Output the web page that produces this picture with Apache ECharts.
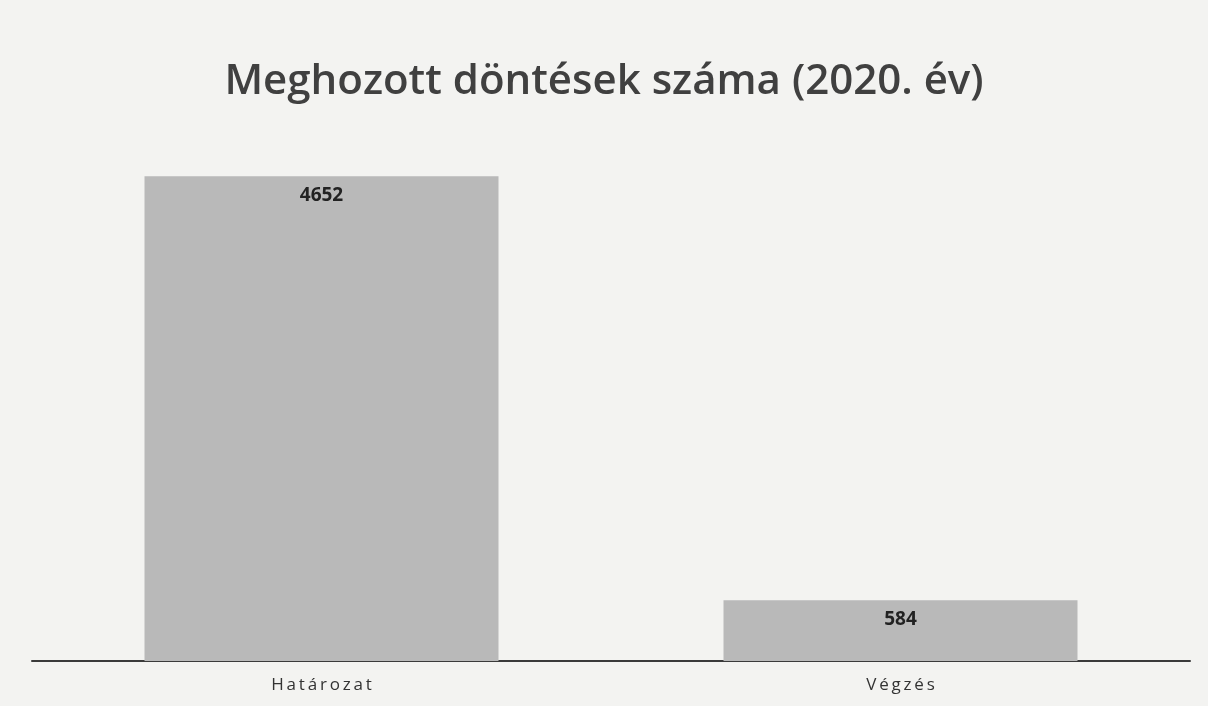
<!DOCTYPE html>
<html>
<head>
<meta charset="utf-8">
<script src="https://cdn.jsdelivr.net/npm/echarts@6/dist/echarts.min.js"></script>
<style>
  html, body { margin: 0; padding: 0; background: #f3f3f1; }
  #chart { width: 1208px; height: 706px; }
</style>
</head>
<body>
<div id="chart"></div>
<script>
const categories = ['Határozat', 'Végzés']
const values = [4652, 584]

const chart = echarts.init(document.getElementById('chart'))

chart.setOption({
  backgroundColor: '#f3f3f1',
  title: {
    text: 'Meghozott döntések száma (2020. év)',
    left: 'center',
    top: 56,
    textStyle: {
      fontFamily: 'Open Sans',
      fontSize: 42,
      fontWeight: 600,
      color: '#404040',
    },
  },
  grid: { left: 32, right: 18, top: 140, bottom: 45 },
  xAxis: {
    type: 'category',
    data: categories,
    axisLine: { lineStyle: { color: '#3a3a3a', width: 2 } },
    axisTick: { show: false },
    axisLabel: {
      fontFamily: 'Open Sans',
      fontSize: 17,
      color: '#333',
      margin: 16,
      formatter: v => v.split('').join('\u2009'),
    },
  },
  yAxis: {
    type: 'value',
    min: 0,
    max: 5000,
    show: false,
  },
  series: [{
    type: 'bar',
    data: values,
    barWidth: 354,
    itemStyle: { color: '#b9b9b9' },
    label: {
      show: true,
      position: 'insideTop',
      distance: 10,
      fontFamily: 'Open Sans',
      fontSize: 19,
      fontWeight: 'bold',
      color: '#222',
    },
  }],
})
</script>
</body>
</html>
